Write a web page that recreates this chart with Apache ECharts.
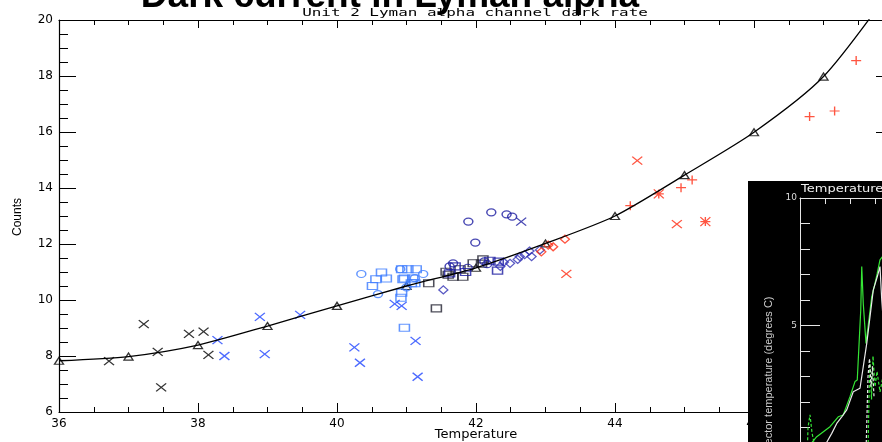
<!DOCTYPE html>
<html>
<head>
<meta charset="utf-8">
<script src="https://cdn.jsdelivr.net/npm/echarts@6/dist/echarts.min.js"></script>
<style>
html, body { margin: 0; padding: 0; background: #ffffff; }
#chart { width: 882px; height: 442px; }
</style>
</head>
<body>
<div id="chart"></div>
<script>
// ---- Dark rate vs. temperature (Unit 2, Lyman alpha channel) ----
const xTicks = { min: 36, max: 48, step: 2 };
const yTicks = { min: 6, max: 20, step: 2 };

// Fitted dark-rate curve (triangles mark the fit at whole degrees)
const fitCurve = [[36, 7.83], [37, 7.98], [38, 8.39], [39, 9.07], [40, 9.79], [41, 10.5],
  [42, 11.15], [43, 12.02], [44, 13.0], [45, 14.46], [46, 15.99], [47, 17.98], [48, 21.2]];

const blackCross = [[36.72, 7.82], [37.22, 9.14], [37.42, 8.15], [37.47, 6.88], [37.87, 8.79],
  [38.08, 8.87], [38.15, 8.04]];
const blueCross = [[38.28, 8.57], [38.38, 8.0], [38.89, 9.40], [38.96, 8.07], [39.47, 9.47],
  [40.25, 8.31], [40.33, 7.76], [40.83, 9.86], [40.93, 9.79], [41.13, 8.54], [41.16, 7.26]];
const lightSquares = [[40.51, 10.5], [40.56, 10.74], [40.64, 10.98], [40.71, 10.77], [40.93, 11.10],
  [41.02, 11.10], [41.14, 11.10], [40.97, 10.77], [41.09, 10.77], [41.07, 10.6], [40.95, 10.74],
  [41.12, 10.6], [40.93, 10.26], [40.92, 10.08], [40.97, 9.01]];
const lightCircles = [[40.35, 10.93], [40.59, 10.21], [40.91, 11.1], [41.12, 10.78], [41.24, 10.93],
  [41.0, 10.45]];
const darkSquares = [[41.32, 10.6], [41.43, 9.70], [41.57, 11.01], [41.67, 10.83], [41.81, 10.83],
  [41.77, 11.1], [41.96, 11.31], [42.10, 11.45], [42.08, 11.3], [41.6, 10.9]];
const navySquares = [[42.31, 11.05], [42.32, 11.37], [41.85, 11.0], [41.7, 11.2], [42.2, 11.4],
  [41.62, 10.95]];
const navyCircles = [[41.89, 12.80], [42.22, 13.13], [42.44, 13.06], [42.52, 12.98], [41.99, 12.05],
  [41.67, 11.31], [41.62, 11.2], [42.12, 11.38], [42.16, 11.28], [41.88, 11.15]];
const navyCross = [[42.65, 12.80]];
const navyDiamonds = [[41.53, 10.36], [42.49, 11.31], [42.63, 11.55], [42.80, 11.55], [42.77, 11.75],
  [42.92, 11.79], [42.6, 11.45], [42.35, 11.2], [42.4, 11.35], [42.7, 11.62]];
const redDiamonds = [[42.94, 11.72], [43.04, 11.96], [43.11, 11.90], [43.28, 12.17]];
const redCross = [[43.30, 10.93], [44.32, 14.98], [44.89, 12.71]];
const redPlus = [[44.22, 13.37], [44.95, 14.01], [45.11, 14.29], [46.80, 16.55], [47.16, 16.75],
  [47.47, 18.55]];
const redStar = [[44.63, 13.79], [45.30, 12.80]];

// ---- Inset: detector temperature history ----
const insetGreen = [[0.3, 0.2], [0.67, 0.64], [1.2, 1.03], [1.53, 1.42], [1.73, 1.49], [2.0, 2.21],
  [2.2, 2.8], [2.29, 2.86], [2.43, 5.61], [2.47, 7.31], [2.53, 5.87], [2.64, 4.3], [2.87, 6.13],
  [3.0, 6.65], [3.09, 7.05], [3.2, 7.57], [3.32, 7.73]];
const insetWhite = [[1.0, 0.3], [1.27, 0.77], [1.47, 1.16], [1.67, 1.42], [1.87, 1.69], [2.13, 2.40],
  [2.4, 2.54], [2.51, 3.25], [2.67, 4.3], [2.93, 6.39], [3.09, 6.91], [3.2, 7.31], [3.27, 6.0],
  [3.36, 4.8]];
const insetGreenDashA = [[0.3, 0.3], [0.32, 1.0], [0.4, 1.5], [0.48, 0.8], [0.56, 0.4]];
const insetGreenDashB = [[2.72, 0.0], [2.76, 2.2], [2.8, 3.6], [2.86, 2.1], [2.92, 3.8], [3.0, 2.6],
  [3.08, 3.2], [3.2, 2.4], [3.32, 3.0]];
const insetWhiteDash = [[2.64, 0.0], [2.68, 1.5], [2.72, 3.0], [2.78, 3.7], [2.84, 2.6], [2.9, 3.4],
  [2.96, 2.2]];

// ---- Symbols and colours ----
const SYM_CROSS = 'path://M0,0L10,10M10,0L0,10';
const SYM_PLUS = 'path://M5,0L5,10M0,5L10,5';
const SYM_STAR = 'path://M0,0L10,10M10,0L0,10M5,0L5,10M0,5L10,5';
const C_BLACK = '#000000';
const C_BLUE = '#1f45ff';
const C_LIGHT = '#3b7bff';
const C_NAVY = '#1c1ca0';
const C_DIAM = '#3030b4';
const C_DARK = '#202030';
const C_RED = '#ff2a12';

const LABEL_FONT = 'DejaVu Sans';

function pointSet(name, data, symbol, size, color) {
  return {
    name, type: 'scatter', xAxisIndex: 0, yAxisIndex: 0, data,
    symbol, symbolSize: size, z: 3,
    itemStyle: { color: 'rgba(0,0,0,0)', borderColor: color, borderWidth: 1.3 },
    emphasis: { disabled: true }
  };
}

function insetLine(name, data, color, dashed) {
  return {
    name, type: 'line', xAxisIndex: 2, yAxisIndex: 2, data,
    showSymbol: false, z: 60, clip: true,
    lineStyle: { color, width: 1.2, type: dashed ? [3, 2] : 'solid' }
  };
}

const chart = echarts.init(document.getElementById('chart'), null, { renderer: 'canvas' });

const mainAxisCommon = {
  type: 'value',
  axisLine: { show: true, onZero: false, lineStyle: { color: '#000', width: 1.2 } },
  splitLine: { show: false }
};

const option = {
  animation: false,
  backgroundColor: '#ffffff',
  grid: [
    { left: 59, top: 20, width: 834, height: 392, outerBoundsMode: 'none', containLabel: false },
    { left: 800, top: 198, width: 250, height: 255, outerBoundsMode: 'none', containLabel: false }
  ],
  xAxis: [
    Object.assign({}, mainAxisCommon, {
      gridIndex: 0, position: 'bottom', min: xTicks.min, max: xTicks.max, interval: xTicks.step,
      axisTick: { inside: true, length: 9, lineStyle: { color: '#000' } },
      minorTick: { show: true, splitNumber: 4, length: 5, lineStyle: { color: '#000' } },
      axisLabel: { color: '#000', fontFamily: LABEL_FONT, fontSize: 12, margin: 6 },
      name: 'Temperature', nameLocation: 'middle', nameGap: 16, nameMoveOverlap: false,
      nameTextStyle: { color: '#000', fontFamily: LABEL_FONT, fontSize: 13, verticalAlign: 'top' }
    }),
    Object.assign({}, mainAxisCommon, {
      gridIndex: 0, position: 'top', min: xTicks.min, max: xTicks.max, interval: xTicks.step,
      axisTick: { inside: true, length: 8, lineStyle: { color: '#000' } },
      minorTick: { show: true, splitNumber: 4, length: 5, lineStyle: { color: '#000' } },
      axisLabel: { show: false }
    }),
    {
      type: 'value', gridIndex: 1, position: 'top', min: 0, max: 10, interval: 1, z: 60,
      axisLine: { show: true, onZero: false, lineStyle: { color: '#e6e6e6', width: 1 } },
      axisTick: { inside: true, length: 6, lineStyle: { color: '#e6e6e6' } },
      axisLabel: { show: false },
      splitLine: { show: false }
    }
  ],
  yAxis: [
    Object.assign({}, mainAxisCommon, {
      gridIndex: 0, position: 'left', min: yTicks.min, max: yTicks.max, interval: yTicks.step,
      axisTick: { inside: true, length: 17, lineStyle: { color: '#000' } },
      minorTick: { show: true, splitNumber: 4, length: 9, lineStyle: { color: '#000' } },
      axisLabel: { color: '#000', fontFamily: LABEL_FONT, fontSize: 12, margin: 6 }
    }),
    Object.assign({}, mainAxisCommon, {
      gridIndex: 0, position: 'right', min: yTicks.min, max: yTicks.max, interval: yTicks.step,
      axisTick: { inside: true, length: 17, lineStyle: { color: '#000' } },
      minorTick: { show: true, splitNumber: 4, length: 9, lineStyle: { color: '#000' } },
      axisLabel: { show: false }
    }),
    {
      type: 'value', gridIndex: 1, position: 'left', min: 0, max: 10, interval: 5, z: 60,
      axisLine: { show: true, onZero: false, lineStyle: { color: '#e6e6e6', width: 1 } },
      axisTick: { inside: true, length: 20, lineStyle: { color: '#e6e6e6' } },
      minorTick: { show: true, splitNumber: 5, length: 10, lineStyle: { color: '#e6e6e6' } },
      axisLabel: { color: '#dddddd', fontFamily: LABEL_FONT, fontSize: 9, margin: 3 },
      splitLine: { show: false }
    }
  ],
  series: [
    {
      name: 'Fit', type: 'line', xAxisIndex: 0, yAxisIndex: 0, data: fitCurve,
      smooth: 0.25, showSymbol: false, clip: true, z: 4,
      lineStyle: { color: '#000', width: 1.3 }
    },
    pointSet('Fit points', fitCurve.filter(p => p[1] <= yTicks.max), 'triangle', [9, 7], C_BLACK),
    pointSet('Black x', blackCross, SYM_CROSS, [10, 8], C_BLACK),
    pointSet('Blue x', blueCross, SYM_CROSS, [10, 8], C_BLUE),
    pointSet('Light squares', lightSquares, 'rect', [10, 7], C_LIGHT),
    pointSet('Light circles', lightCircles, 'circle', [9, 7], C_LIGHT),
    pointSet('Dark squares', darkSquares, 'rect', [10, 7], C_DARK),
    pointSet('Navy squares', navySquares, 'rect', [10, 7], C_NAVY),
    pointSet('Navy circles', navyCircles, 'circle', [9, 7], C_NAVY),
    pointSet('Navy x', navyCross, SYM_CROSS, [10, 8], C_NAVY),
    pointSet('Navy diamonds', navyDiamonds, 'diamond', [9, 8], C_DIAM),
    pointSet('Red diamonds', redDiamonds, 'diamond', [9, 8], C_RED),
    pointSet('Red x', redCross, SYM_CROSS, [10, 8], C_RED),
    pointSet('Red +', redPlus, SYM_PLUS, [10, 9], C_RED),
    pointSet('Red *', redStar, SYM_STAR, [10, 9], C_RED),
    insetLine('Green', insetGreen, '#35e635', false),
    insetLine('White', insetWhite, '#e8e8e8', false),
    insetLine('Green dashed A', insetGreenDashA, '#35e635', true),
    insetLine('Green dashed B', insetGreenDashB, '#35e635', true),
    insetLine('White dashed', insetWhiteDash, '#e8e8e8', true)
  ],
  graphic: {
    elements: [
      {
        type: 'rect', z: 50, silent: true,
        shape: { x: 748, y: 181, width: 140, height: 270 },
        style: { fill: '#000000' }
      },
      {
        type: 'text', z: 70, silent: true, x: 801, y: 189, scaleX: 1.3,
        style: {
          text: 'Temperature', fill: '#f0f0f0', font: '10px "DejaVu Sans"',
          textAlign: 'left', textVerticalAlign: 'middle', align: 'left', verticalAlign: 'middle'
        }
      },
      {
        type: 'text', z: 70, silent: true, x: 769, y: 379, rotation: Math.PI / 2,
        style: {
          text: 'Detector temperature (degrees C)', fill: '#cccccc',
          font: '11px "Liberation Sans Narrow", "Liberation Sans"',
          textAlign: 'center', textVerticalAlign: 'middle', align: 'center', verticalAlign: 'middle'
        }
      },
      {
        type: 'text', z: 10, silent: true, x: 18, y: 217, rotation: Math.PI / 2,
        style: {
          text: 'Counts', fill: '#000', font: '12px "Liberation Sans"',
          textAlign: 'center', textVerticalAlign: 'middle', align: 'center', verticalAlign: 'middle'
        }
      },
      {
        type: 'text', z: 90, silent: true, x: 475, y: 13, scaleX: 1.45,
        style: {
          text: 'Unit 2 Lyman alpha channel dark rate', fill: '#000',
          font: '11px "DejaVu Sans Mono"',
          textAlign: 'center', textVerticalAlign: 'middle', align: 'center', verticalAlign: 'middle'
        }
      },
      {
        type: 'text', z: 100, silent: true, x: 390, y: -3,
        style: {
          text: 'Dark current in Lyman alpha', fill: '#000',
          font: 'bold 37px "Liberation Sans"',
          textAlign: 'center', textVerticalAlign: 'middle', align: 'center', verticalAlign: 'middle'
        }
      }
    ]
  }
};

chart.setOption(option);
</script>
</body>
</html>
